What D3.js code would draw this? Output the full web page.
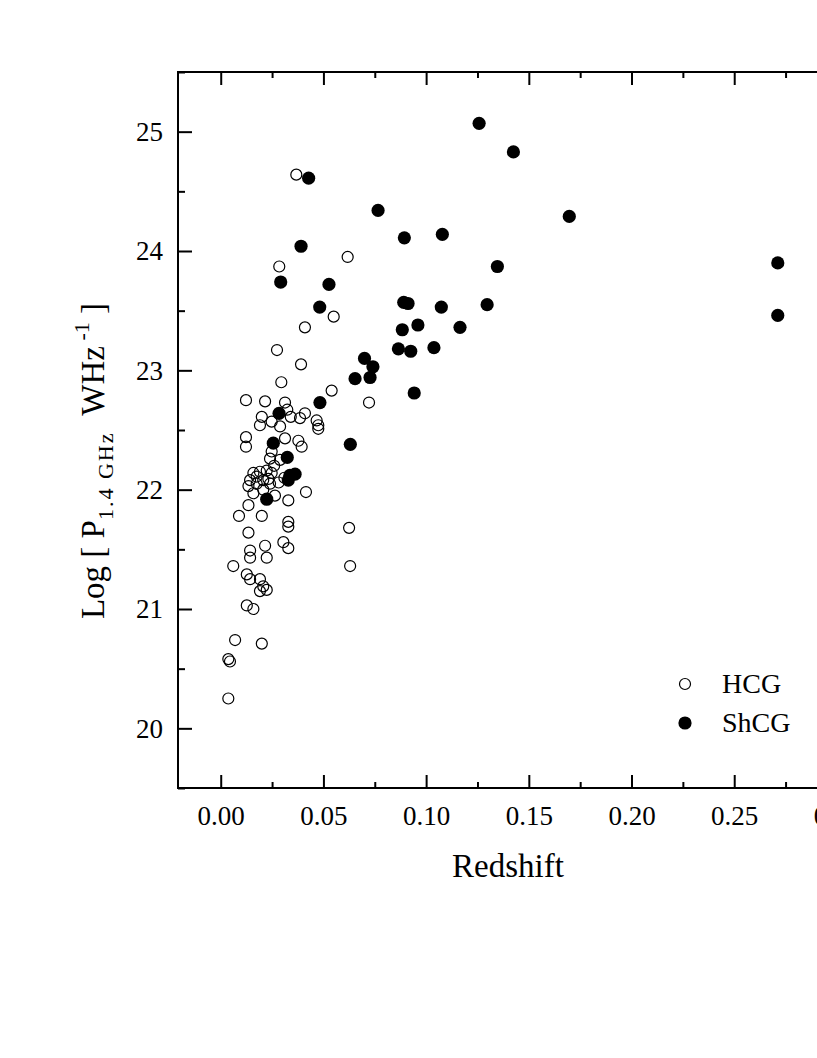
<!DOCTYPE html>
<html>
<head>
<meta charset="utf-8">
<script src="https://cdn.jsdelivr.net/npm/d3@7"></script>
<style>
  body { margin: 0; background: #fff; }
  text { font-family: "Liberation Serif", "Times New Roman", serif; fill: #000; }
</style>
</head>
<body>
<div id="chart"></div>
<script>
// HCG: redshift, log P(1.4 GHz)
const hcgZ = [0.0368, 0.0618, 0.0285, 0.055, 0.041, 0.0274, 0.0391, 0.0295, 0.054, 0.0722,
  0.0625, 0.063, 0.0123, 0.0216, 0.0313, 0.0324, 0.020, 0.0191, 0.0289, 0.0341,
  0.0386, 0.041, 0.0467, 0.0475, 0.0475, 0.0123, 0.0123, 0.0313, 0.0378, 0.0394,
  0.0248, 0.0289, 0.024, 0.0415, 0.0143, 0.0135, 0.0159, 0.0191, 0.0224, 0.0248,
  0.0207, 0.0175, 0.024, 0.0159, 0.0264, 0.0207, 0.0329, 0.0135, 0.0089, 0.020,
  0.0329, 0.0329, 0.0135, 0.0143, 0.0216, 0.0305, 0.0329, 0.0143, 0.0224, 0.0061,
  0.0127, 0.0143, 0.0191, 0.0207, 0.0191, 0.0224, 0.0127, 0.0159, 0.007, 0.020,
  0.0037, 0.0045, 0.0037, 0.0248, 0.026, 0.0175, 0.0232, 0.0282, 0.031];
const hcgP = [24.64, 23.95, 23.87, 23.45, 23.36, 23.17, 23.05, 22.90, 22.83, 22.73,
  21.68, 21.36, 22.75, 22.74, 22.73, 22.67, 22.61, 22.54, 22.53, 22.61,
  22.60, 22.64, 22.58, 22.54, 22.51, 22.44, 22.36, 22.43, 22.41, 22.36,
  22.32, 22.25, 22.26, 21.98, 22.08, 22.03, 22.14, 22.15, 22.16, 22.14,
  22.08, 22.05, 22.05, 21.97, 21.95, 22.00, 21.91, 21.87, 21.78, 21.78,
  21.73, 21.69, 21.64, 21.49, 21.53, 21.56, 21.51, 21.43, 21.43, 21.36,
  21.29, 21.25, 21.25, 21.19, 21.15, 21.16, 21.03, 21.00, 20.74, 20.71,
  20.58, 20.56, 20.25, 22.57, 22.20, 22.11, 22.09, 22.06, 22.10];

// ShCG
const shcgZ = [0.0428, 0.0766, 0.0894, 0.1079, 0.0391, 0.0292, 0.0527, 0.0891, 0.0912, 0.1074,
  0.0482, 0.1165, 0.096, 0.0884, 0.0865, 0.0925, 0.1038, 0.070, 0.0741, 0.0727,
  0.0654, 0.0942, 0.0631, 0.0483, 0.0284, 0.0256, 0.0324, 0.0337, 0.0362, 0.0329,
  0.0224, 0.1258, 0.1425, 0.1697, 0.1347, 0.2712, 0.2712, 0.1297];
const shcgP = [24.61, 24.34, 24.11, 24.14, 24.04, 23.74, 23.72, 23.57, 23.56, 23.53,
  23.53, 23.36, 23.38, 23.34, 23.18, 23.16, 23.19, 23.10, 23.03, 22.94,
  22.93, 22.81, 22.38, 22.73, 22.64, 22.39, 22.27, 22.12, 22.13, 22.08,
  21.92, 25.07, 24.83, 24.29, 23.87, 23.90, 23.46, 23.55];

const xTicks = [0, 0.05, 0.10, 0.15, 0.20, 0.25, 0.30];
const yTicks = [20, 21, 22, 23, 24, 25];

const margin = {top: 72, right: -61, bottom: 270, left: 178},
      width = 817 - margin.left - margin.right,
      height = 1058 - margin.top - margin.bottom;

const svg = d3.select("#chart")
    .append("svg")
    .attr("width", 817)
    .attr("height", 1058)
    .style("display", "block");

svg.append("rect").attr("width", 817).attr("height", 1058).attr("fill", "#fff");

const g = svg.append("g")
    .attr("transform", `translate(${margin.left},${margin.top})`);

const x = d3.scaleLinear().domain([-0.0208, 0.3200]).range([0, width]);
const y = d3.scaleLinear().domain([19.5, 25.5]).range([height, 0]);

const minorX = d3.range(0.025, 0.33, 0.05);
const minorY = d3.range(19.5, 25.6, 1);

// ticks point inward on all four sides
function tickSet(axisFn, scale, vals, size, fmt) {
    return axisFn(scale).tickValues(vals).tickSize(-size).tickSizeOuter(0).tickFormat(fmt);
}

const axBottom = g.append("g").attr("transform", `translate(0,${height})`);
axBottom.append("g").call(tickSet(d3.axisBottom, x, minorX, 6, ""));
axBottom.append("g").attr("class", "major").call(tickSet(d3.axisBottom, x, xTicks, 13, d3.format(".2f")));
const axTop = g.append("g");
axTop.append("g").call(tickSet(d3.axisTop, x, minorX, 6, ""));
axTop.append("g").call(tickSet(d3.axisTop, x, xTicks, 13, ""));
const axLeft = g.append("g");
axLeft.append("g").call(tickSet(d3.axisLeft, y, minorY, 7, ""));
axLeft.append("g").attr("class", "major").call(tickSet(d3.axisLeft, y, yTicks, 14, d3.format("d")));

g.selectAll(".domain").remove();
g.selectAll(".tick line").attr("stroke", "#000").attr("stroke-width", 2);
g.selectAll(".tick text").style("font-size", "27px").attr("fill", "#000")
    .style("font-family", "'Liberation Serif', serif");
axBottom.selectAll(".major .tick text").attr("y", 0).attr("dy", "37px");
axLeft.selectAll(".major .tick text").attr("x", -15).attr("dy", "0.33em");

g.append("rect")
    .attr("width", width).attr("height", height)
    .attr("fill", "none").attr("stroke", "#000").attr("stroke-width", 2);

// points
g.selectAll(".hcg")
    .data(hcgZ.map((z, i) => [z, hcgP[i]]))
    .join("circle")
    .attr("class", "hcg")
    .attr("cx", d => x(d[0]))
    .attr("cy", d => y(d[1]))
    .attr("r", 5.5)
    .attr("fill", "none")
    .attr("stroke", "#000")
    .attr("stroke-width", 1.2);

g.selectAll(".shcg")
    .data(shcgZ.map((z, i) => [z, shcgP[i]]))
    .join("circle")
    .attr("class", "shcg")
    .attr("cx", d => x(d[0]))
    .attr("cy", d => y(d[1]))
    .attr("r", 6.6)
    .attr("fill", "#000");

// legend
const legend = svg.append("g").attr("transform", "translate(685,684)");
legend.append("circle").attr("r", 5.5).attr("fill", "none").attr("stroke", "#000").attr("stroke-width", 1.2);
legend.append("text").attr("x", 37).attr("y", 9).style("font-size", "28px").text("HCG");
legend.append("circle").attr("cy", 39).attr("r", 6.6).attr("fill", "#000");
legend.append("text").attr("x", 37).attr("y", 48).style("font-size", "28px").text("ShCG");

// axis titles
svg.append("text")
    .attr("x", 508).attr("y", 877)
    .attr("text-anchor", "middle")
    .style("font-size", "33px")
    .text("Redshift");

const yl = svg.append("text")
    .attr("transform", "translate(104,461) rotate(-90)")
    .attr("text-anchor", "middle")
    .style("font-size", "33px");
yl.append("tspan").text("Log [ P");
yl.append("tspan").attr("dy", 9).style("font-size", "22px").style("letter-spacing", "2px").text("1.4 GHz");
yl.append("tspan").attr("dy", -9).text("\u00a0 WHz");
yl.append("tspan").attr("dy", -15).style("font-size", "22px").text(" -1");
yl.append("tspan").attr("dy", 15).text(" ]");
</script>
</body>
</html>
